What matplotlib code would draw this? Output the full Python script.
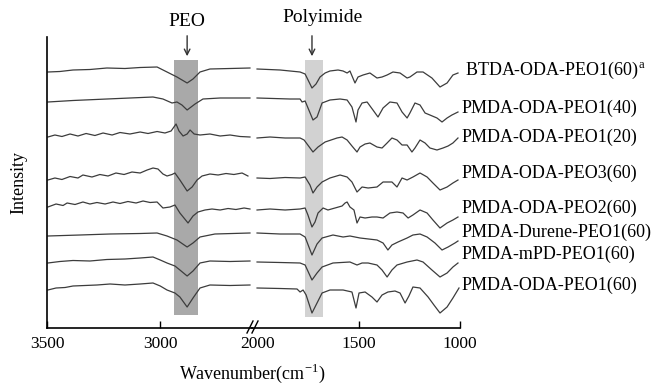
import numpy as np
import matplotlib
matplotlib.use("Agg")
import matplotlib.pyplot as plt
from matplotlib.lines import Line2D

plt.rcParams['font.family'] = ['Liberation Serif', 'DejaVu Serif']
plt.rcParams['mathtext.fontset'] = 'custom'
plt.rcParams['mathtext.rm'] = 'Liberation Serif'

# (wavenumber, intensity), top spectrum first
btda_oda_peo1_60 = [
    (3496, 256), (3443, 256.5), (3385, 258), (3310, 258.5), (3235, 260), (3155, 259.5),
    (3088, 260.5), (3013, 261), (2969, 256), (2925, 251), (2880, 245), (2854, 249),
    (2823, 256), (2779, 259), (2690, 259.5), (2602, 260),
    (2005, 259), (1891, 258), (1792, 256), (1767, 254), (1733, 240), (1713, 244),
    (1693, 251), (1668, 255), (1644, 257), (1604, 258), (1579, 257), (1559, 255),
    (1545, 257), (1520, 245), (1505, 251), (1480, 253), (1446, 255), (1411, 250),
    (1386, 251), (1361, 253), (1332, 256), (1297, 255), (1262, 250), (1248, 251),
    (1213, 256), (1183, 256), (1139, 250), (1099, 241), (1064, 245), (1035, 253),
    (1010, 255)]
pmda_oda_peo1_40 = [
    (3496, 226), (3385, 227.5), (3235, 229), (3133, 230), (3031, 231), (2987, 229),
    (2947, 225), (2925, 226), (2903, 223), (2880, 218), (2845, 224), (2810, 229),
    (2734, 230), (2602, 230),
    (2005, 230), (1842, 229), (1792, 229), (1782, 226), (1767, 227), (1728, 208),
    (1708, 211), (1683, 225), (1644, 228), (1594, 229), (1559, 228), (1535, 221),
    (1515, 206), (1505, 218), (1485, 225), (1460, 226), (1431, 218), (1406, 211),
    (1381, 220), (1347, 226), (1312, 225), (1287, 216), (1262, 210), (1248, 215),
    (1223, 225), (1198, 223), (1173, 215), (1149, 213), (1114, 210), (1089, 206),
    (1064, 210), (1040, 213), (1010, 216)]
pmda_oda_peo1_20 = [
    (3496, 191), (3465, 193), (3434, 191.5), (3398, 194), (3363, 192), (3327, 194.5),
    (3288, 192.5), (3252, 195), (3212, 193), (3177, 195.5), (3133, 194), (3088, 196),
    (3053, 194.5), (3013, 196.5), (2978, 195), (2951, 197), (2929, 204), (2916, 197),
    (2898, 192), (2880, 194), (2867, 198), (2849, 194), (2823, 193), (2779, 194),
    (2734, 192), (2690, 193), (2646, 191.5), (2602, 191),
    (2005, 190), (1941, 191), (1866, 190), (1792, 190), (1772, 188), (1728, 176),
    (1703, 181), (1668, 186), (1609, 190), (1584, 191), (1559, 188), (1535, 182),
    (1510, 176), (1495, 181), (1470, 184), (1446, 185), (1411, 181), (1386, 180),
    (1361, 185), (1337, 190), (1312, 188), (1287, 183), (1262, 183), (1238, 176),
    (1223, 180), (1198, 188), (1173, 185), (1149, 180), (1114, 178), (1084, 180),
    (1059, 182), (1035, 185), (1010, 190)]
pmda_oda_peo3_60 = [
    (3496, 148), (3465, 150), (3434, 148.5), (3398, 151.5), (3363, 150), (3341, 153),
    (3301, 151), (3266, 153.5), (3230, 152), (3195, 155), (3159, 153.5), (3124, 156),
    (3088, 155), (3057, 158), (3031, 160), (3009, 159), (2987, 154), (2969, 152),
    (2947, 153.5), (2934, 155), (2912, 148), (2880, 137), (2858, 141), (2836, 148),
    (2814, 152), (2779, 154), (2743, 153), (2708, 154.5), (2673, 153.5), (2637, 155),
    (2611, 152),
    (2005, 150), (1941, 149.5), (1866, 150.5), (1792, 150), (1767, 151), (1743, 143),
    (1728, 135), (1708, 141), (1683, 146), (1644, 150), (1594, 153), (1559, 151),
    (1535, 146), (1510, 136), (1485, 141), (1455, 140), (1411, 141), (1381, 146),
    (1337, 146), (1312, 141), (1287, 150), (1262, 148), (1233, 151), (1198, 155),
    (1163, 151), (1134, 145), (1099, 138), (1064, 141), (1035, 145), (1010, 148)]
pmda_oda_peo2_60 = [
    (3496, 121), (3460, 124), (3429, 122.5), (3411, 125), (3376, 123.5), (3341, 126),
    (3310, 124), (3279, 125.5), (3243, 124), (3208, 126), (3177, 124.5), (3142, 126.5),
    (3106, 125), (3075, 127), (3044, 125.5), (3013, 126), (2987, 120), (2956, 121),
    (2934, 123), (2912, 115), (2876, 105), (2854, 112), (2832, 116), (2801, 118),
    (2770, 119), (2734, 118), (2699, 119.5), (2664, 118.5), (2628, 120), (2602, 119),
    (2005, 118), (1941, 119), (1866, 118), (1792, 119), (1767, 120), (1753, 113),
    (1733, 101), (1718, 106), (1703, 115), (1678, 120), (1654, 118), (1619, 120),
    (1584, 122), (1569, 125), (1559, 126), (1545, 121), (1525, 118), (1510, 105),
    (1495, 111), (1470, 110), (1436, 111), (1411, 111), (1381, 110), (1347, 115),
    (1312, 116), (1282, 115), (1257, 110), (1233, 113), (1198, 118), (1163, 115),
    (1134, 108), (1099, 100), (1064, 105), (1035, 108), (1010, 111)]
pmda_durene_peo1_60 = [
    (3496, 92), (3354, 93), (3221, 94), (3088, 94.5), (3013, 95), (2969, 92),
    (2925, 88), (2880, 81), (2854, 85), (2823, 91), (2757, 94), (2602, 95),
    (2005, 95), (1891, 94), (1792, 94), (1767, 91), (1733, 73), (1708, 84),
    (1683, 90), (1629, 93), (1579, 91), (1545, 92), (1495, 90), (1411, 88),
    (1381, 85), (1357, 78), (1337, 83), (1307, 86), (1262, 90), (1233, 93),
    (1198, 94), (1163, 91), (1124, 85), (1089, 78), (1059, 81), (1025, 85),
    (1010, 87)]
pmda_mpd_peo1_60 = [
    (3496, 65), (3443, 66.5), (3385, 67.5), (3310, 67), (3235, 68.5), (3155, 69),
    (3088, 70), (3031, 71), (2999, 68), (2969, 65), (2934, 62), (2912, 58),
    (2880, 52), (2854, 57), (2823, 65), (2779, 67), (2690, 66.5), (2602, 67),
    (2005, 66), (1891, 65.5), (1792, 65), (1767, 63), (1733, 48), (1708, 55),
    (1683, 61), (1629, 65), (1545, 66), (1510, 63), (1485, 65), (1455, 65),
    (1411, 63), (1386, 58), (1361, 51), (1337, 58), (1312, 63), (1262, 66),
    (1213, 68), (1183, 66), (1139, 58), (1099, 51), (1064, 55), (1035, 61),
    (1010, 65)]
pmda_oda_peo1_60 = [
    (3496, 38), (3460, 40), (3420, 40.5), (3385, 42), (3332, 42.5), (3279, 43),
    (3221, 44), (3155, 43), (3088, 44), (3031, 45), (2999, 42), (2969, 38),
    (2934, 35), (2912, 31), (2880, 21), (2854, 30), (2823, 40), (2779, 43),
    (2690, 42.5), (2602, 43),
    (2005, 40), (1891, 39.5), (1807, 39), (1792, 36), (1777, 38), (1762, 33),
    (1733, 15), (1708, 25), (1683, 35), (1644, 38), (1579, 38), (1535, 36),
    (1515, 20), (1500, 35), (1470, 36), (1436, 31), (1411, 26), (1386, 33),
    (1357, 36), (1322, 37), (1297, 35), (1272, 25), (1253, 32), (1233, 41),
    (1198, 40), (1158, 31), (1129, 23), (1099, 15), (1064, 21), (1035, 30),
    (1005, 40)]

spectra = [btda_oda_peo1_60, pmda_oda_peo1_40, pmda_oda_peo1_20, pmda_oda_peo3_60,
           pmda_oda_peo2_60, pmda_durene_peo1_60, pmda_mpd_peo1_60, pmda_oda_peo1_60]
names = ["BTDA-ODA-PEO1(60)$^{\\mathrm{a}}$", "PMDA-ODA-PEO1(40)", "PMDA-ODA-PEO1(20)",
         "PMDA-ODA-PEO3(60)", "PMDA-ODA-PEO2(60)", "PMDA-Durene-PEO1(60)",
         "PMDA-mPD-PEO1(60)", "PMDA-ODA-PEO1(60)"]
name_y = [258, 220, 191, 155, 120, 96, 74, 43]

peo_band = (2938, 2832)
imide_band = (1767, 1678)

W, H = 658, 386
fig = plt.figure(figsize=(W / 100, H / 100), dpi=100)
axL = fig.add_axes([47 / W, 58 / H, 205 / W, 291 / H])
axR = fig.add_axes([252 / W, 58 / H, 208 / W, 291 / H])

line_c = '#3c3c3c'
for spec in spectra:
    arr = np.array(spec, dtype=float)
    hi = arr[arr[:, 0] > 2300]
    lo = arr[arr[:, 0] < 2300]
    axL.plot(hi[:, 0], hi[:, 1], color=line_c, lw=0.9)
    axR.plot(lo[:, 0], lo[:, 1], color=line_c, lw=0.9)

axL.fill_between(peo_band, 13, 268, color='#a9a9a9', zorder=0, lw=0)
axR.fill_between(imide_band, 11, 268, color='#d2d2d2', zorder=0, lw=0)

axL.set_xlim(3500, 2593)
axR.set_xlim(2030, 1000)
for ax in (axL, axR):
    ax.set_ylim(0, 291)
    ax.set_yticks([])
    ax.spines['top'].set_visible(False)
    ax.spines['right'].set_visible(False)
    ax.spines['bottom'].set_linewidth(1.2)
    ax.spines['left'].set_linewidth(1.2)
    ax.patch.set_alpha(0)
    ax.tick_params(axis='x', direction='in', length=5, width=1, labelsize=12.5, pad=6)
axR.spines['left'].set_visible(False)

axL.set_xticks([3500, 3000])
axR.set_xticks([2000, 1500, 1000])
axR.xaxis.get_major_ticks()[0].tick1line.set_visible(False)
axL.set_ylabel("Intensity", fontsize=13, labelpad=14)

# trace labels
for i, (nm, yy) in enumerate(zip(names, name_y)):
    axR.text(975 if i == 0 else 994, yy, nm, fontsize=13, ha='left', va='center',
             clip_on=False)

# band annotations
axL.annotate("", xy=(2880, 269), xytext=(2880, 295), annotation_clip=False,
             arrowprops=dict(arrowstyle='->', color='#333333', lw=1))
axL.text(2880, 307, "PEO", fontsize=14, ha='center', va='center', clip_on=False)
axR.annotate("", xy=(1733, 269), xytext=(1733, 295), annotation_clip=False,
             arrowprops=dict(arrowstyle='->', color='#333333', lw=1))
axR.text(1680, 310, "Polyimide", fontsize=14, ha='center', va='center', clip_on=False)

# axis break marks
for dx in (0, 5):
    fig.add_artist(Line2D([(247 + dx) / W, (253 + dx) / W],
                          [(H - 333) / H, (H - 321) / H], color='black', lw=1))

fig.text(252 / W, (H - 373) / H, "Wavenumber(cm$^{\\mathrm{-1}}$)", fontsize=13,
         ha='center', va='center')

fig.savefig("out.png", dpi=100)
